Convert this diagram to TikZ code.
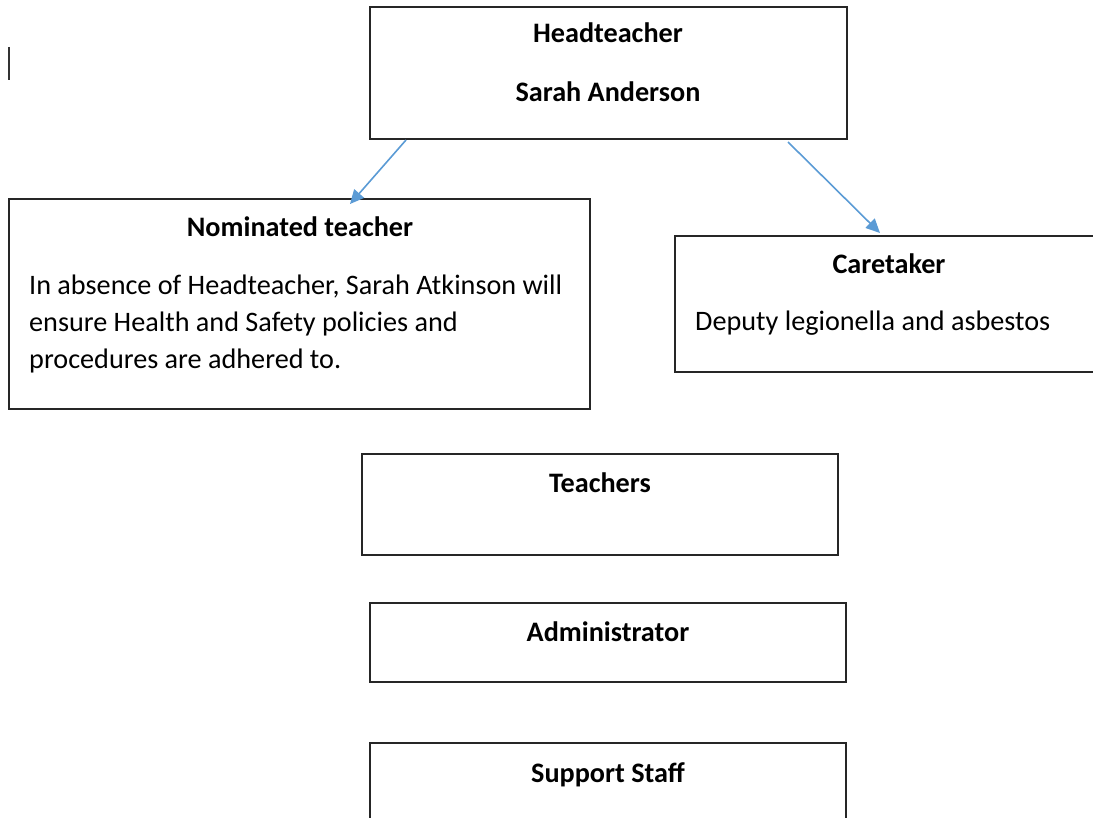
\documentclass[tikz,border=0pt]{standalone}
\usepackage{fontspec}
\setmainfont{Carlito}
\usetikzlibrary{arrows.meta}
\definecolor{arrowblue}{RGB}{91,155,213}
\begin{document}
\begin{tikzpicture}[x=1pt,y=-1pt,
  boxline/.style={draw=black!85,line width=1.3pt},
  title/.style={font=\fontsize{28.2}{34}\selectfont\bfseries,inner sep=0pt,anchor=base},
  body/.style={font=\fontsize{28.2}{34}\selectfont,inner sep=0pt,anchor=base west},
  link/.style={draw=arrowblue,line width=1.6pt,-{Triangle[length=14pt,width=13pt]}}]
\useasboundingbox (0,0) rectangle (1093,818);
% boxes
\draw[boxline] (370,7) rectangle (847,139);
\draw[boxline] (9,199) rectangle (590,409);
\draw[boxline] (1100,236) -- (675,236) -- (675,372) -- (1100,372);
\draw[boxline] (362,454) rectangle (838,555);
\draw[boxline] (370,603) rectangle (846,682);
\draw[boxline] (370,830) -- (370,743) -- (846,743) -- (846,830);
% texts
\node[title] (head1) at (608,43) {Headteacher};
\node[title] (head2) at (608,102) {Sarah Anderson};
\node[title] (nom) at (300,237) {Nominated teacher};
\node[body] (nombody1) at (29,295) {In absence of Headteacher, Sarah Atkinson will};
\node[body] (nombody2) at (29,332) {ensure Health and Safety policies and};
\node[body] (nombody3) at (29,369) {procedures are adhered to.};
\node[title] (care) at (889,274) {Caretaker};
\node[body] (carebody) at (695,331) {Deputy legionella and asbestos};
\node[title] (teach) at (600,492) {Teachers};
\node[title] (admin) at (608,641) {Administrator};
\node[title] (support) at (608,782) {Support Staff};
% arrows
\coordinate (a1s) at (406,140);
\coordinate (a1e) at (350,204);
\coordinate (a2s) at (788,142);
\coordinate (a2e) at (880,233);
\draw[link] (a1s) -- (a1e);
\draw[link] (a2s) -- (a2e);
% cursor mark
\coordinate (c1) at (9,47);
\coordinate (c2) at (9,80);
\draw[line width=1.5pt,black!80] (c1) -- (c2);
\end{tikzpicture}
\end{document}
